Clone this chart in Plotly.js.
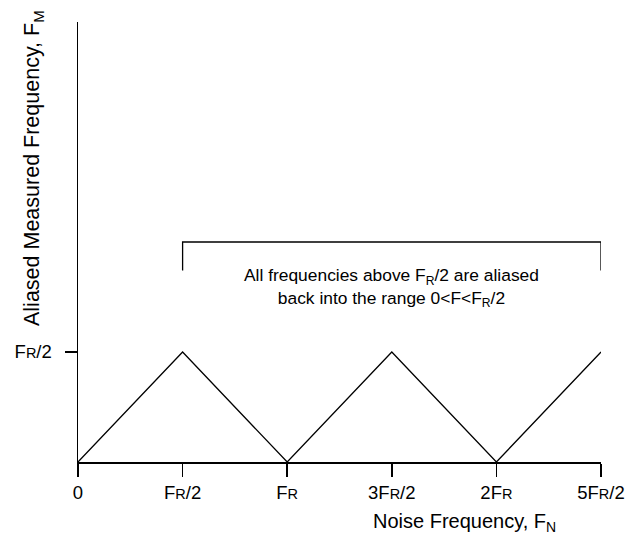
<!DOCTYPE html>
<html>
<head>
<meta charset="utf-8">
<script src="https://cdn.plot.ly/plotly-3.0.1.min.js"></script>
<style>html,body{margin:0;padding:0;background:#fff;}#chart{width:632px;height:536px;}</style>
</head>
<body>
<div id="chart"></div>
<script>
// Noise frequency in units of FR/2, aliased frequency in units of FR/2
var noiseFreq = [0, 1, 2, 3, 4, 5];
var aliasedFreq = [0, 1, 0, 1, 0, 1];
var xTickVals = [0, 1, 2, 3, 4, 5];
var R = '<span style="font-size:14.5px">R</span>';
var xTickLabels = ['0', 'F' + R + '/2', 'F' + R, '3F' + R + '/2', '2F' + R, '5F' + R + '/2'];
var yTickVals = [1];
var yTickLabels = ['F' + R + '/2'];
// bracket showing aliased range
var bracketX = [1, 1, 5, 5];
var bracketY = [1.74, 2.0, 2.0, 1.74];

var font = 'Liberation Sans, Arial, Helvetica, sans-serif';

var traces = [
  {x: noiseFreq, y: aliasedFreq, mode: 'lines', line: {color: '#000', width: 1.3}, hoverinfo: 'none'},
  {x: bracketX, y: bracketY, mode: 'lines', line: {color: '#000', width: 1.3}, hoverinfo: 'none'}
];

var layout = {
  width: 632, height: 536,
  margin: {l: 78, r: 31, t: 22, b: 74},
  showlegend: false,
  paper_bgcolor: '#fff', plot_bgcolor: '#fff',
  font: {family: font, color: '#000', size: 18},
  xaxis: {
    range: [0, 5], showgrid: false, zeroline: false, showline: true,
    linecolor: '#000', linewidth: 1.5,
    ticks: 'outside', ticklen: 13, tickwidth: 1.5, tickcolor: '#000',
    tickvals: xTickVals, ticktext: xTickLabels,
    tickfont: {size: 18.5, family: font, color: '#000'},
    fixedrange: true
  },
  yaxis: {
    range: [0, 4], showgrid: false, zeroline: false, showline: true,
    linecolor: '#000', linewidth: 1.5,
    ticks: 'outside', ticklen: 12, tickwidth: 1.5, tickcolor: '#000',
    ticklabelstandoff: 9,
    tickvals: yTickVals, ticktext: yTickLabels,
    tickfont: {size: 18.5, family: font, color: '#000'},
    fixedrange: true
  },
  annotations: [
    {xref: 'x', yref: 'y', x: 3, y: 1.585, showarrow: false,
     text: 'All frequencies above F<sub>R</sub>/2 are aliased<br>back into the range 0&lt;F&lt;F<sub>R</sub>/2',
     font: {size: 17.4, family: font, color: '#000'}, align: 'center'},
    {xref: 'paper', yref: 'paper', x: (464 - 78) / 523, y: -(522 - 462) / 440, showarrow: false,
     text: 'Noise Frequency, F<sub>N</sub>', font: {size: 20, family: font, color: '#000'},
     xanchor: 'center', yanchor: 'middle'},
    {xref: 'paper', yref: 'paper', x: -(78 - 33) / 523, y: (462 - 168) / 440, showarrow: false,
     text: 'Aliased Measured Frequency, F<sub>M</sub>', textangle: -90,
     font: {size: 21.5, family: font, color: '#000'},
     xanchor: 'center', yanchor: 'middle'}
  ]
};

Plotly.newPlot('chart', traces, layout, {displayModeBar: false, staticPlot: true});
</script>
</body>
</html>
